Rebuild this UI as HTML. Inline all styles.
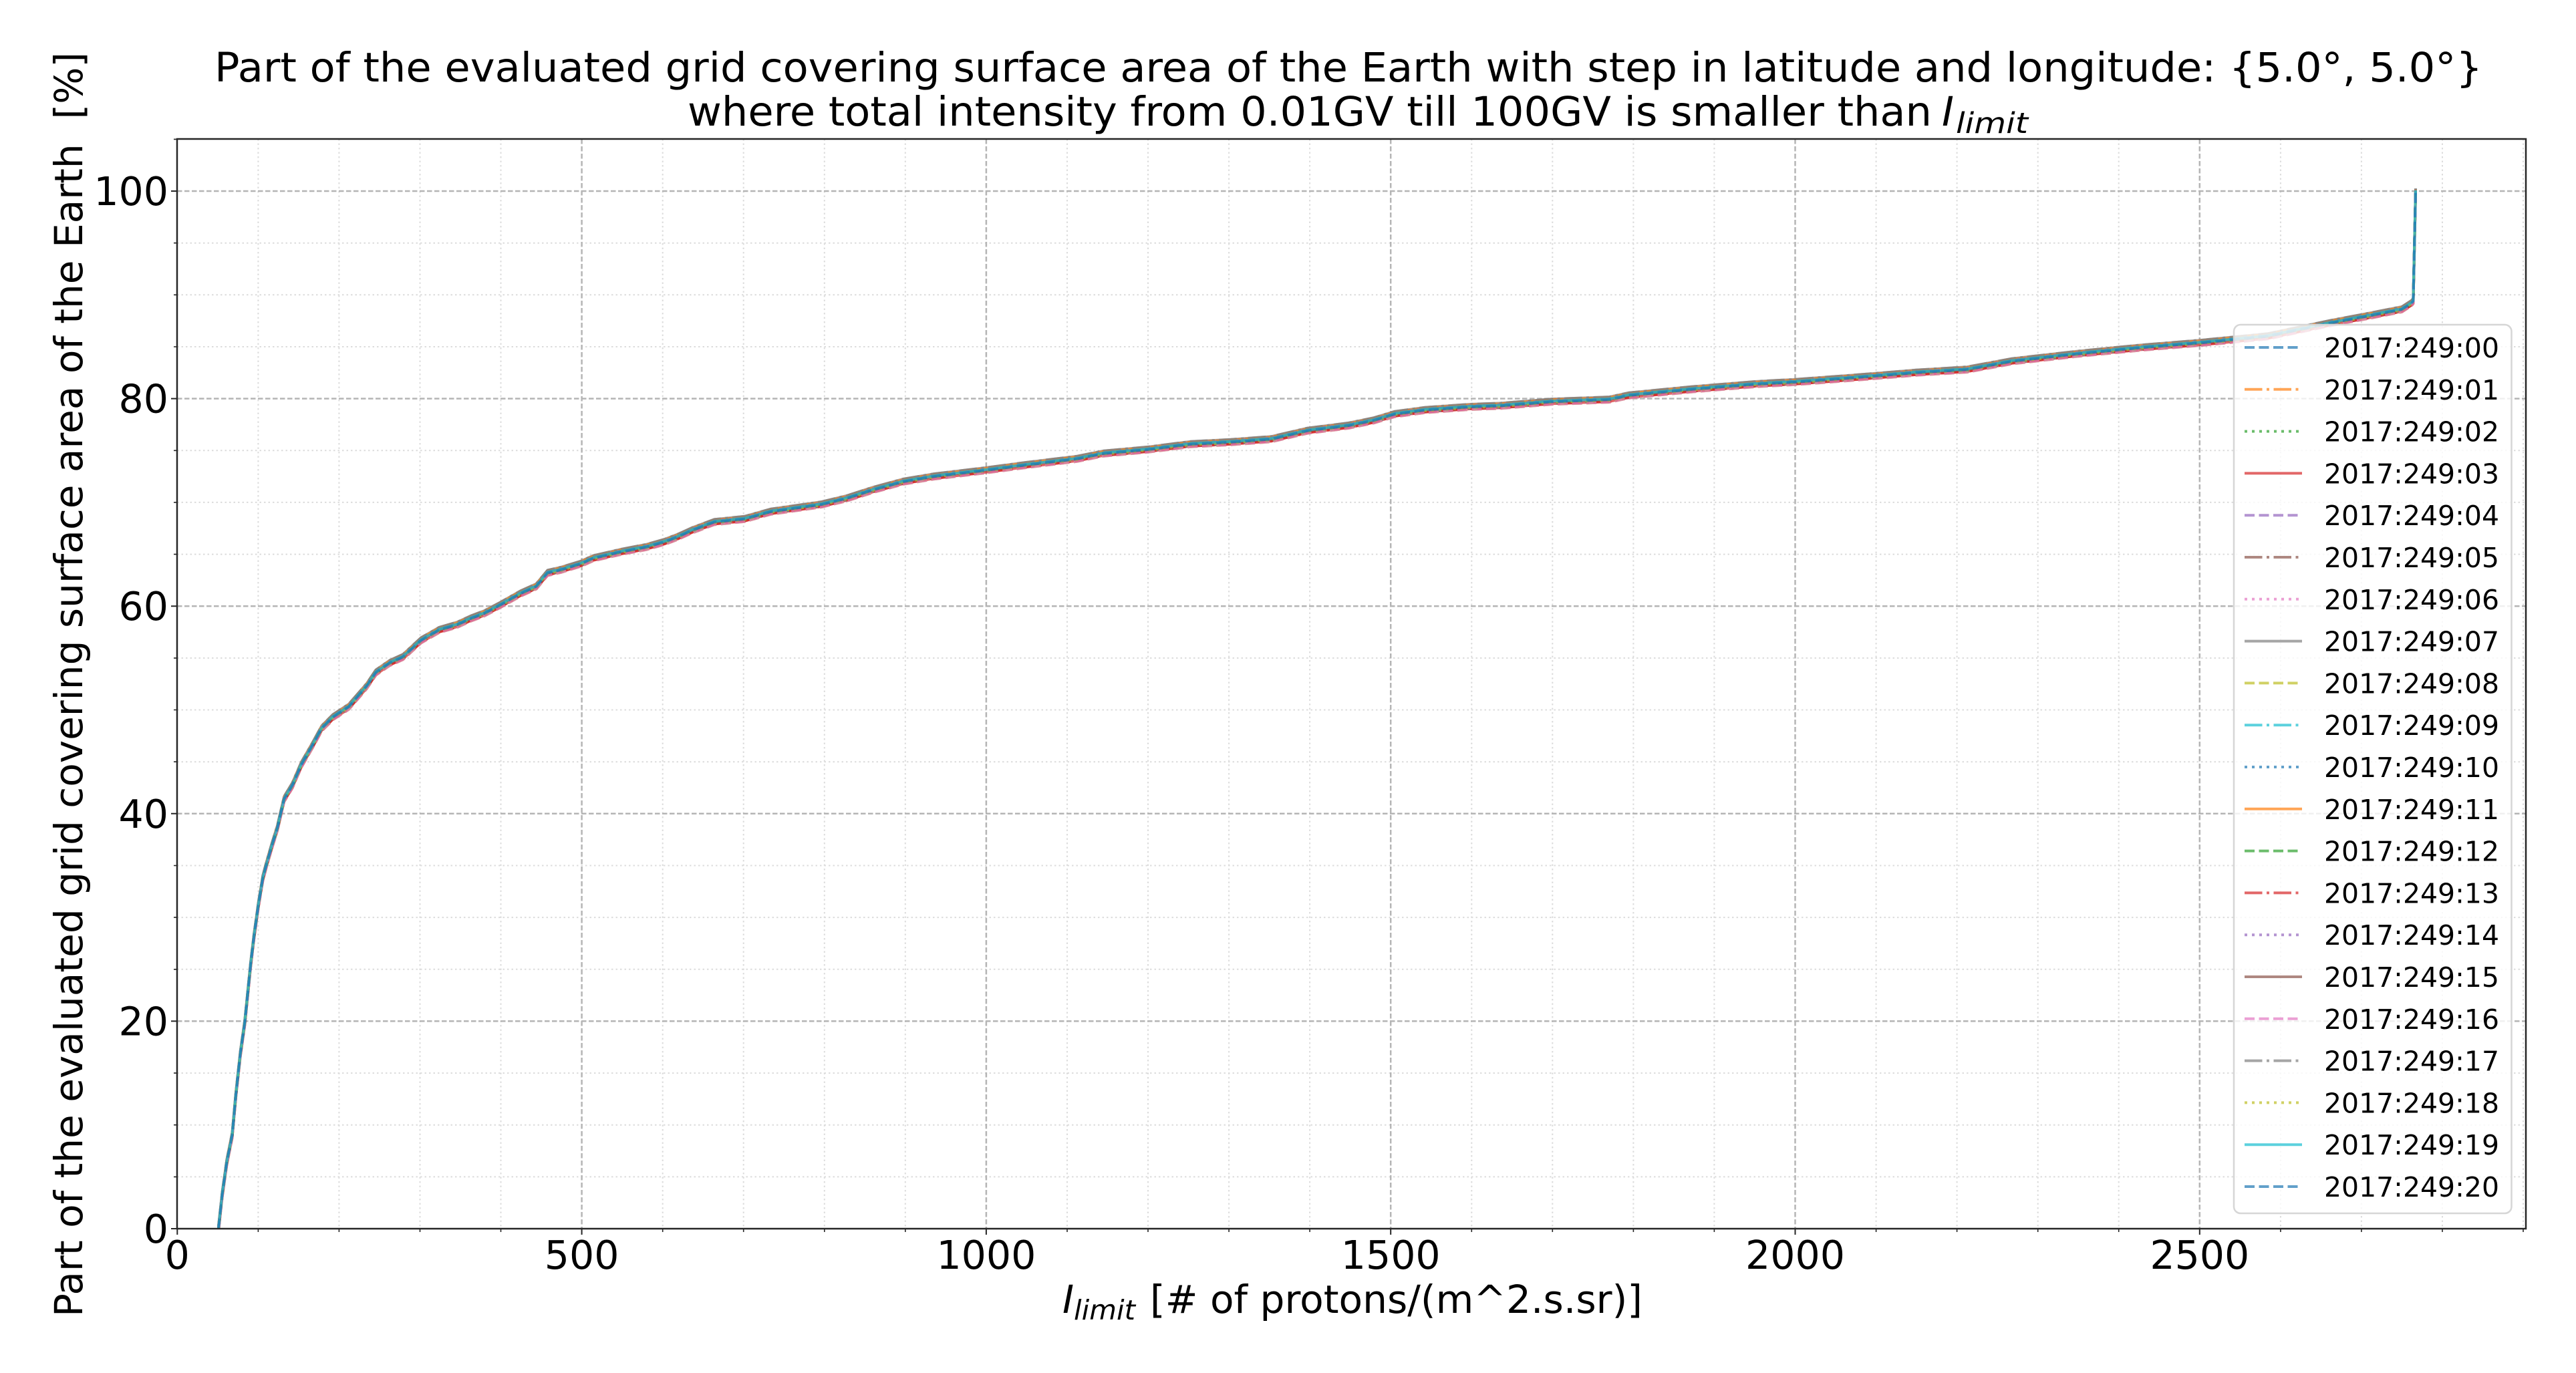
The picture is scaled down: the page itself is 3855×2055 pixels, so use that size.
<!DOCTYPE html>
<html>
<head>
<meta charset="utf-8">
<style>
  html,body{margin:0;padding:0;background:#fff;}
  body{width:3855px;height:2055px;overflow:hidden;position:relative;}
  svg{position:absolute;left:0;top:0;}
  text{font-family:"DejaVu Sans","Liberation Sans",sans-serif;fill:#000;}
  .c0{stroke:#1f77b4}.c1{stroke:#ff7f0e}.c2{stroke:#2ca02c}.c3{stroke:#d62728}.c4{stroke:#9467bd}
  .c5{stroke:#8c564b}.c6{stroke:#e377c2}.c7{stroke:#7f7f7f}.c8{stroke:#bcbd22}.c9{stroke:#17becf}
  .s0{stroke-dasharray:15 6.5}
  .s1{stroke-dasharray:26.5 6.5 4 6.5}
  .s2{stroke-dasharray:4 7}
  .s3{}
  .ln{fill:none;stroke-width:4;stroke-opacity:0.7;stroke-linejoin:round;stroke-linecap:butt;}
</style>
</head>
<body>
<svg width="3855" height="2055" viewBox="0 0 3855 2055" xmlns="http://www.w3.org/2000/svg">
  <defs>
    <clipPath id="ax"><rect x="265" y="208" width="3515" height="1631"/></clipPath>
    <path id="cv" d="M327.0,1839.0 L332.6,1787.8 L339.4,1739.6 L347.5,1699.2 L353.0,1638.7 L359.6,1578.1 L366.4,1530.0 L371.1,1483.4 L375.2,1443.0 L380.0,1402.6 L386.7,1354.5 L393.4,1314.1 L398.8,1293.9 L406.9,1265.9 L415.1,1239.5 L425.2,1196.1 L437.4,1175.9 L450.9,1144.8 L467.8,1115.3 L481.3,1090.4 L498.2,1073.4 L522.0,1057.8 L548.9,1026.8 L562.5,1006.6 L582.7,992.6 L603.1,983.3 L630.2,958.4 L657.2,942.9 L684.2,935.1 L704.5,925.8 L724.7,918.1 L748.5,905.6 L778.8,888.5 L802.6,877.7 L819.4,857.5 L839.7,852.8 L870.1,843.5 L887.0,835.8 L927.5,826.4 L968.0,818.6 L995.0,810.9 L1015.4,803.1 L1035.7,793.8 L1068.9,781.4 L1114.8,776.7 L1153.1,765.9 L1229.7,755.0 L1267.9,745.7 L1306.2,733.3 L1352.1,720.8 L1398.1,713.1 L1476.8,703.7 L1535.7,696.0 L1612.2,686.7 L1650.5,678.9 L1719.3,672.7 L1780.6,664.9 L1842.0,661.8 L1903.0,657.2 L1956.6,644.7 L2017.9,637.0 L2056.1,629.2 L2086.8,619.9 L2132.6,613.7 L2199.8,609.0 L2245.7,607.4 L2322.3,601.2 L2408.4,598.1 L2437.1,591.9 L2532.4,582.6 L2628.2,574.9 L2686.8,571.8 L2771.8,565.5 L2867.5,557.8 L2944.0,553.1 L3010.9,540.7 L3106.7,529.8 L3202.2,520.5 L3298.0,512.7 L3393.6,503.4 L3489.3,483.2 L3546.8,472.4 L3594.5,463.0 L3608.9,453.7 L3611.4,450.6 L3615.0,286.0"/>
  </defs>

  <!-- minor grid -->
  <path fill="none" stroke="#dcdcdc" stroke-width="2" stroke-dasharray="2.5 4"
    d="M386.4,208V1839 M507.4,208V1839 M628.5,208V1839 M749.5,208V1839 M991.7,208V1839 M1112.7,208V1839 M1233.8,208V1839 M1354.8,208V1839 M1597.0,208V1839 M1718.0,208V1839 M1839.1,208V1839 M1960.1,208V1839 M2202.3,208V1839 M2323.3,208V1839 M2444.4,208V1839 M2565.4,208V1839 M2807.6,208V1839 M2928.6,208V1839 M3049.7,208V1839 M3170.7,208V1839 M3412.9,208V1839 M3533.9,208V1839 M3655.0,208V1839 M3776.0,208V1839
       M265,1761.4H3780 M265,1683.7H3780 M265,1606.1H3780 M265,1450.8H3780 M265,1373.1H3780 M265,1295.5H3780 M265,1140.2H3780 M265,1062.5H3780 M265,984.9H3780 M265,829.6H3780 M265,751.9H3780 M265,674.3H3780 M265,519.0H3780 M265,441.3H3780 M265,363.7H3780"/>
  <!-- major grid -->
  <path fill="none" stroke="#b5b5b5" stroke-width="2.5" stroke-dasharray="7.5 3.5"
    d="M870.6,208V1839 M1475.9,208V1839 M2081.2,208V1839 M2686.5,208V1839 M3291.8,208V1839
       M265,1528.4H3780 M265,1217.8H3780 M265,907.2H3780 M265,596.6H3780 M265,286.0H3780"/>

  <!-- series -->
  <g clip-path="url(#ax)">
    <use href="#cv" class="ln c0 s0" transform="translate(0,-3)"/>
    <use href="#cv" class="ln c1 s1" transform="translate(0,2)"/>
    <use href="#cv" class="ln c2 s2" transform="translate(0,-1)"/>
    <use href="#cv" class="ln c3 s3" transform="translate(0,3)"/>
    <use href="#cv" class="ln c4 s0" transform="translate(0,-2)"/>
    <use href="#cv" class="ln c5 s1" transform="translate(0,1)"/>
    <use href="#cv" class="ln c6 s2" transform="translate(0,0)"/>
    <use href="#cv" class="ln c7 s3" transform="translate(0,-4)"/>
    <use href="#cv" class="ln c8 s0" transform="translate(0,4)"/>
    <use href="#cv" class="ln c9 s1" transform="translate(0,-1)"/>
    <use href="#cv" class="ln c0 s2" transform="translate(0,2)"/>
    <use href="#cv" class="ln c1 s3" transform="translate(0,-3)"/>
    <use href="#cv" class="ln c2 s0" transform="translate(0,1)"/>
    <use href="#cv" class="ln c3 s1" transform="translate(0,3)"/>
    <use href="#cv" class="ln c4 s2" transform="translate(0,-2)"/>
    <use href="#cv" class="ln c5 s3" transform="translate(0,0)"/>
    <use href="#cv" class="ln c6 s0" transform="translate(0,4)"/>
    <use href="#cv" class="ln c7 s1" transform="translate(0,-4)"/>
    <use href="#cv" class="ln c8 s2" transform="translate(0,1)"/>
    <use href="#cv" class="ln c9 s3" transform="translate(0,-1)"/>
    <use href="#cv" class="ln c0 s0" transform="translate(0,0)"/>
  </g>

  <!-- spines -->
  <rect x="265" y="208" width="3515" height="1631" fill="none" stroke="#262626" stroke-width="2.5"/>

  <!-- ticks -->
  <path fill="none" stroke="#262626" stroke-width="2"
    d="M265.3,1839v9 M870.6,1839v9 M1475.9,1839v9 M2081.2,1839v9 M2686.5,1839v9 M3291.8,1839v9
       M265,1839h-9 M265,1528.4h-9 M265,1217.8h-9 M265,907.2h-9 M265,596.6h-9 M265,286.0h-9"/>
  <path fill="none" stroke="#262626" stroke-width="1.6"
    d="M386.4,1839v5 M507.4,1839v5 M628.5,1839v5 M749.5,1839v5 M991.7,1839v5 M1112.7,1839v5 M1233.8,1839v5 M1354.8,1839v5 M1597.0,1839v5 M1718.0,1839v5 M1839.1,1839v5 M1960.1,1839v5 M2202.3,1839v5 M2323.3,1839v5 M2444.4,1839v5 M2565.4,1839v5 M2807.6,1839v5 M2928.6,1839v5 M3049.7,1839v5 M3170.7,1839v5 M3412.9,1839v5 M3533.9,1839v5 M3655.0,1839v5 M3776.0,1839v5
       M265,1761.4h-5 M265,1683.7h-5 M265,1606.1h-5 M265,1450.8h-5 M265,1373.1h-5 M265,1295.5h-5 M265,1140.2h-5 M265,1062.5h-5 M265,984.9h-5 M265,829.6h-5 M265,751.9h-5 M265,674.3h-5 M265,519.0h-5 M265,441.3h-5 M265,363.7h-5 M265,208.4h-5"/>

  <!-- x tick labels -->
  <g font-size="58.5" text-anchor="middle">
    <text x="265.3" y="1899">0</text>
    <text x="870.6" y="1899">500</text>
    <text x="1475.9" y="1899">1000</text>
    <text x="2081.2" y="1899">1500</text>
    <text x="2686.5" y="1899">2000</text>
    <text x="3291.8" y="1899">2500</text>
  </g>
  <!-- y tick labels -->
  <g font-size="58.5" text-anchor="end">
    <text x="252" y="1860">0</text>
    <text x="252" y="1549.4">20</text>
    <text x="252" y="1238.8">40</text>
    <text x="252" y="928.2">60</text>
    <text x="252" y="617.6">80</text>
    <text x="252" y="307">100</text>
  </g>

  <!-- title -->
  <text x="321" y="122" font-size="61" textLength="3394" lengthAdjust="spacingAndGlyphs">Part of the evaluated grid covering surface area of the Earth with step in latitude and longitude: {5.0°, 5.0°}</text>
  <text x="1029" y="188" font-size="61" textLength="1862" lengthAdjust="spacingAndGlyphs">where total intensity from 0.01GV till 100GV is smaller than</text>
  <text x="2906" y="188" font-size="61" font-style="italic">I</text>
  <text x="2927" y="199" font-size="43" font-style="italic" textLength="108" lengthAdjust="spacingAndGlyphs">limit</text>

  <!-- x label -->
  <text x="1590" y="1965" font-size="58" font-style="italic">I</text>
  <text x="1607" y="1975" font-size="41" font-style="italic" textLength="92" lengthAdjust="spacingAndGlyphs">limit</text>
  <text x="1721" y="1965" font-size="58" textLength="737" lengthAdjust="spacingAndGlyphs">[# of protons/(m^2.s.sr)]</text>

  <!-- y label -->
  <text transform="translate(123,1024.5) rotate(-90)" x="0" y="0" font-size="58" text-anchor="middle" textLength="1893" lengthAdjust="spacingAndGlyphs" xml:space="preserve">Part of the evaluated grid covering surface area of the Earth  [%]</text>

  <!-- legend -->
  <rect x="3343" y="486" width="415.5" height="1330" rx="10" ry="10" fill="#ffffff" fill-opacity="0.8" stroke="#d6d6d6" stroke-width="2.5"/>
  <g>
    <line x1="3359" x2="3445" y1="520.0" y2="520.0" class="ln c0 s0"/>
    <line x1="3359" x2="3445" y1="582.8" y2="582.8" class="ln c1 s1"/>
    <line x1="3359" x2="3445" y1="645.6" y2="645.6" class="ln c2 s2"/>
    <line x1="3359" x2="3445" y1="708.4" y2="708.4" class="ln c3 s3"/>
    <line x1="3359" x2="3445" y1="771.2" y2="771.2" class="ln c4 s0"/>
    <line x1="3359" x2="3445" y1="834.0" y2="834.0" class="ln c5 s1"/>
    <line x1="3359" x2="3445" y1="896.8" y2="896.8" class="ln c6 s2"/>
    <line x1="3359" x2="3445" y1="959.6" y2="959.6" class="ln c7 s3"/>
    <line x1="3359" x2="3445" y1="1022.4" y2="1022.4" class="ln c8 s0"/>
    <line x1="3359" x2="3445" y1="1085.2" y2="1085.2" class="ln c9 s1"/>
    <line x1="3359" x2="3445" y1="1148.0" y2="1148.0" class="ln c0 s2"/>
    <line x1="3359" x2="3445" y1="1210.8" y2="1210.8" class="ln c1 s3"/>
    <line x1="3359" x2="3445" y1="1273.6" y2="1273.6" class="ln c2 s0"/>
    <line x1="3359" x2="3445" y1="1336.4" y2="1336.4" class="ln c3 s1"/>
    <line x1="3359" x2="3445" y1="1399.2" y2="1399.2" class="ln c4 s2"/>
    <line x1="3359" x2="3445" y1="1462.0" y2="1462.0" class="ln c5 s3"/>
    <line x1="3359" x2="3445" y1="1524.8" y2="1524.8" class="ln c6 s0"/>
    <line x1="3359" x2="3445" y1="1587.6" y2="1587.6" class="ln c7 s1"/>
    <line x1="3359" x2="3445" y1="1650.4" y2="1650.4" class="ln c8 s2"/>
    <line x1="3359" x2="3445" y1="1713.2" y2="1713.2" class="ln c9 s3"/>
    <line x1="3359" x2="3445" y1="1776.0" y2="1776.0" class="ln c0 s0"/>
  </g>
  <g font-size="41">
    <text x="3478" y="535.0" textLength="262" lengthAdjust="spacingAndGlyphs">2017:249:00</text>
    <text x="3478" y="597.8" textLength="262" lengthAdjust="spacingAndGlyphs">2017:249:01</text>
    <text x="3478" y="660.6" textLength="262" lengthAdjust="spacingAndGlyphs">2017:249:02</text>
    <text x="3478" y="723.4" textLength="262" lengthAdjust="spacingAndGlyphs">2017:249:03</text>
    <text x="3478" y="786.2" textLength="262" lengthAdjust="spacingAndGlyphs">2017:249:04</text>
    <text x="3478" y="849.0" textLength="262" lengthAdjust="spacingAndGlyphs">2017:249:05</text>
    <text x="3478" y="911.8" textLength="262" lengthAdjust="spacingAndGlyphs">2017:249:06</text>
    <text x="3478" y="974.6" textLength="262" lengthAdjust="spacingAndGlyphs">2017:249:07</text>
    <text x="3478" y="1037.4" textLength="262" lengthAdjust="spacingAndGlyphs">2017:249:08</text>
    <text x="3478" y="1100.2" textLength="262" lengthAdjust="spacingAndGlyphs">2017:249:09</text>
    <text x="3478" y="1163.0" textLength="262" lengthAdjust="spacingAndGlyphs">2017:249:10</text>
    <text x="3478" y="1225.8" textLength="262" lengthAdjust="spacingAndGlyphs">2017:249:11</text>
    <text x="3478" y="1288.6" textLength="262" lengthAdjust="spacingAndGlyphs">2017:249:12</text>
    <text x="3478" y="1351.4" textLength="262" lengthAdjust="spacingAndGlyphs">2017:249:13</text>
    <text x="3478" y="1414.2" textLength="262" lengthAdjust="spacingAndGlyphs">2017:249:14</text>
    <text x="3478" y="1477.0" textLength="262" lengthAdjust="spacingAndGlyphs">2017:249:15</text>
    <text x="3478" y="1539.8" textLength="262" lengthAdjust="spacingAndGlyphs">2017:249:16</text>
    <text x="3478" y="1602.6" textLength="262" lengthAdjust="spacingAndGlyphs">2017:249:17</text>
    <text x="3478" y="1665.4" textLength="262" lengthAdjust="spacingAndGlyphs">2017:249:18</text>
    <text x="3478" y="1728.2" textLength="262" lengthAdjust="spacingAndGlyphs">2017:249:19</text>
    <text x="3478" y="1791.0" textLength="262" lengthAdjust="spacingAndGlyphs">2017:249:20</text>
  </g>
</svg>
</body>
</html>
